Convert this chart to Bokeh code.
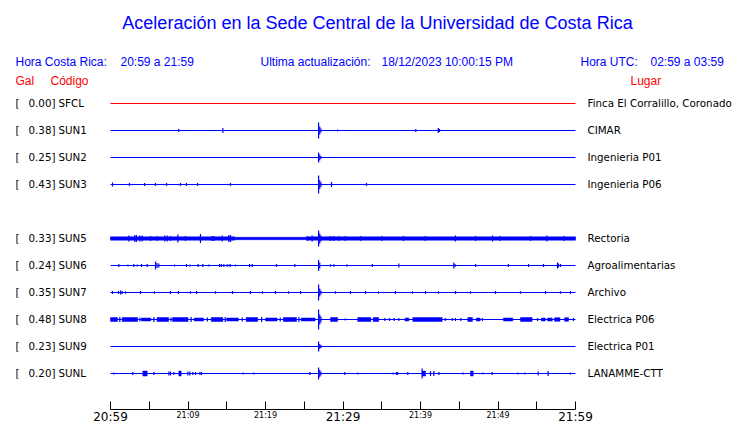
from bokeh.plotting import figure
from bokeh.models import Range1d, FixedTicker, Label, LabelSet, ColumnDataSource, LinearAxis
from bokeh.core.properties import value
from bokeh.embed import file_html
from bokeh.resources import INLINE

# ---------------- data ----------------
slot_order = ["SFCL", "SUN1", "SUN2", "SUN3", "SUN4", "SUN5", "SUN6", "SUN7", "SUN8", "SUN9", "SUNL"]
codes = ["SFCL", "SUN1", "SUN2", "SUN3", "SUN5", "SUN6", "SUN7", "SUN8", "SUN9", "SUNL"]
peaks = [0.00, 0.38, 0.25, 0.43, 0.33, 0.24, 0.35, 0.48, 0.23, 0.20]
places = ["Finca El Corralillo, Coronado", "CIMAR", "Ingenieria P01", "Ingenieria P06",
          "Rectoria", "Agroalimentarias", "Archivo", "Electrica P06", "Electrica P01", "LANAMME-CTT"]
trace_colors = ["#ff0000", "#0000ff", "#0000ff", "#0000ff", "#0000ff", "#0000ff",
                "#0000ff", "#0000ff", "#0000ff", "#0000ff"]

t_start, t_end = 0, 60          # minutes after 20:59 local time
tick_minutes = [0, 5, 10, 15, 20, 25, 30, 35, 40, 45, 50, 55, 60]
small_tick_labels = {10: "21:09", 20: "21:19", 40: "21:39", 50: "21:49"}
big_tick_minutes = [0, 30, 60]
big_tick_labels = ["20:59", "21:29", "21:59"]

# spikes: (minute, amplitude)
spikes = {
    "SFCL": [],
    "SUN1": [(8.8, 1.5), (14.5, 2.5), (26.85, 8), (27.0, 4), (27.15, 2), (29.3, 1),
             (39.4, 1.5), (42.3, 2.5), (42.45, 1.5)],
    "SUN2": [(26.85, 5), (27.0, 3), (27.15, 1.5)],
    "SUN3": [(0.26, 2), (2.45, 1.5), (4.39, 1.5), (5.8, 1.5), (7.23, 1.5), (9.03, 1.5),
             (9.8, 1.5), (11.23, 1.5), (15.48, 1.5), (26.85, 9), (27.0, 4.5), (27.15, 2.5),
             (28.52, 2.5), (33.03, 1.5)],
    "SUN5": [(2.37, 3), (3.14, 3.5), (3.35, 3.5), (3.78, 3), (4.09, 3), (5.16, 2.5), (6.02, 2.5),
             (7.0, 3), (7.31, 3), (7.74, 2.5), (8.69, 4), (9.68, 2.5), (11.61, 4.5), (13.12, 2.5),
             (13.33, 2.5), (14.41, 3), (15.27, 3.5), (15.48, 3.5), (25.37, 2.5), (26.02, 3),
             (26.85, 8), (27.0, 5), (27.15, 3), (28.39, 2.5), (28.82, 2.5), (29.46, 2.5),
             (30.3, 2.5), (32.3, 2.5), (35.0, 2.5), (37.8, 2.5), (40.6, 2.5), (44.5, 3),
             (47.1, 2.5), (49.3, 3), (50.3, 2.5), (54.2, 2.5), (56.3, 3), (58.5, 2.5)],
    "SUN6": [(1.08, 1.5), (2.24, 1), (3.01, 1.5), (3.44, 1), (4.0, 1.5), (4.73, 1.5),
             (5.81, 4), (6.0, 2.5), (6.24, 2), (8.26, 1), (9.81, 1.5), (10.24, 1), (11.31, 1.5),
             (11.91, 1.5), (12.69, 1), (14.06, 1.5), (14.3, 1.5), (14.62, 1.5), (15.05, 1.2),
             (15.3, 1.2), (15.48, 1.2), (16.13, 1), (17.94, 1.5), (18.28, 1.5), (21.42, 1.5),
             (23.78, 1.5), (26.85, 5.5), (27.0, 3), (28.39, 1.2), (28.82, 1.2), (30.5, 1.2),
             (33.8, 1.5), (37.2, 2), (44.3, 3), (44.45, 1.5), (47.1, 1.5), (51.35, 1.5),
             (53.94, 1.5), (55.87, 1.5), (57.68, 3), (57.8, 2), (58.06, 1.5)],
    "SUN7": [(0.26, 1.5), (1.03, 1.5), (1.3, 2), (1.5, 1.5), (1.94, 1.2), (3.87, 1.5),
             (5.68, 1.2), (7.74, 1.5), (8.77, 1.5), (10.32, 1.2), (11.1, 1.5), (13.55, 1.2),
             (15.74, 1.5), (18.06, 1.5), (19.61, 1.2), (21.29, 1.5), (22.97, 1.2), (24.52, 1.5),
             (26.85, 8), (27.0, 4), (27.15, 2), (29.03, 1.2), (30.97, 1.5), (32.9, 1.5),
             (34.58, 1.2), (36.77, 1.5), (38.97, 1.2), (40.65, 1.5), (42.32, 1.2), (44.52, 1.5),
             (46.45, 1.2), (49.68, 1.5), (52.9, 1.2), (56.13, 1.5), (58.06, 1.2), (59.35, 1.5)],
    "SUN8": [(26.85, 10), (27.0, 5), (27.15, 3), (30.3, 1), (35.4, 1.5), (36.0, 1.5),
             (36.6, 1.5), (37.2, 1.5), (43.2, 1.5), (44.1, 1.5), (44.5, 1.5), (45.2, 1.5),
             (48.0, 1.5), (55.1, 1.5), (59.74, 1.5), (1.2, 2.5), (3.8, 2), (5.6, 2.5),
             (7.8, 2), (10.4, 2.5), (12.5, 2), (14.8, 2.5), (17.0, 2), (19.5, 2.5), (21.9, 2),
             (24.3, 2.5)],
    "SUN9": [(26.85, 5), (27.0, 2.5), (27.15, 1.5)],
    "SUNL": [(0.43, 1), (2.88, 1.5), (5.59, 1.5), (7.53, 2), (7.74, 2), (8.17, 1.5),
             (9.98, 2), (10.24, 2), (10.62, 1.5), (10.97, 1.5), (11.53, 1.5), (11.74, 1.5),
             (17.12, 1), (18.49, 1), (25.72, 1.5), (26.85, 6), (27.0, 3.5), (27.15, 2),
             (30.23, 1.5), (31.91, 1), (36.47, 1), (36.9, 1.5), (37.07, 1.5), (38.37, 1.5),
             (40.21, 5), (41.29, 2.5), (41.72, 2.5), (42.37, 1.5), (45.5, 1), (48.04, 1),
             (49.25, 1.5), (52.56, 1), (53.46, 1), (55.18, 2), (56.47, 2.5), (59.35, 1)],
}

# dense noise bands: (minute start, minute end, amplitude)
bands = {
    "SUN5": [(0, 16, 1.7), (16, 25.4, 1.2), (25.4, 60, 1.7)],
    "SUN8": [(0, 0.9, 2), (1.5, 3.5, 2), (4.0, 5.2, 1.5), (6.0, 7.5, 2), (8.0, 10.0, 2),
             (10.8, 12.0, 1.5), (13.0, 14.5, 2), (15.0, 16.5, 1.5), (17.5, 19.0, 2),
             (20.0, 21.5, 1.5), (22.3, 24.0, 2), (24.6, 26.4, 1.5), (28.39, 29.3, 2),
             (31.9, 33.6, 2), (33.9, 34.6, 2), (38.0, 38.5, 1.5), (39.0, 42.8, 2),
             (46.1, 46.7, 2), (47.2, 47.7, 1.5), (50.7, 51.9, 1.5), (52.9, 54.4, 2),
             (55.6, 56.1, 1.5), (56.4, 57.0, 1.5), (57.3, 58.0, 1.8), (58.6, 59.1, 1.8)],
    "SUNL": [(4.17, 4.73, 2.5), (8.82, 9.12, 2.5), (40.21, 40.65, 2.5), (46.45, 46.8, 2.5)],
}

# ---------------- layout helpers ----------------
W, H = 740, 423
FL, FR = 110, 575             # x of trace start / end on the canvas
ROW0, ROWSTEP = 103, 27       # y of first row and row spacing
AXIS_Y = 409


def dx(cx):
    return t_start + (cx - FL) * (t_end - t_start) / (FR - FL)


def dy(cy):
    return -(cy - ROW0) / ROWSTEP


def amp(a):
    return a / ROWSTEP


p = figure(width=W, height=H, output_backend="svg", toolbar_location=None,
           x_axis_type=None, y_axis_type=None,
           x_range=Range1d(dx(0), dx(W)), y_range=Range1d(dy(H), dy(0)),
           min_border=0, min_border_left=0, min_border_right=0,
           min_border_top=0, min_border_bottom=0)
p.outline_line_color = None
p.background_fill_color = "white"
p.border_fill_color = "white"

rows = [-slot_order.index(c) for c in codes]

# baselines
p.segment(x0=[t_start] * len(codes), x1=[t_end] * len(codes), y0=rows, y1=rows,
          line_color=trace_colors, line_width=1)

# spikes and noise bands
sx, sy0, sy1, sc = [], [], [], []
qx0, qx1, qy0, qy1, qc = [], [], [], [], []
for c, r, col in zip(codes, rows, trace_colors):
    for t, a in spikes.get(c, []):
        sx.append(t); sy0.append(r - amp(a)); sy1.append(r + amp(a)); sc.append(col)
    for t0, t1, a in bands.get(c, []):
        qx0.append(t0); qx1.append(t1); qy0.append(r - amp(a)); qy1.append(r + amp(a)); qc.append(col)

p.quad(left=qx0, right=qx1, bottom=qy0, top=qy1, fill_color=qc, line_color=qc, line_width=0.5)
p.segment(x0=sx, x1=sx, y0=sy0, y1=sy1, line_color=sc, line_width=1.2)

# time axis: ticks + small labels
axA = LinearAxis(ticker=FixedTicker(ticks=tick_minutes, minor_ticks=[]),
                 bounds=(t_start, t_end), fixed_location=dy(AXIS_Y))
axA.major_label_overrides = {t: small_tick_labels.get(t, "") for t in tick_minutes}
axA.major_tick_in = 8
axA.major_tick_out = 0
axA.minor_tick_line_color = None
axA.axis_line_color = "black"
axA.major_tick_line_color = "black"
axA.major_label_text_font = "DejaVu Sans"
axA.major_label_text_font_size = "8px"
axA.major_label_text_color = "black"
axA.major_label_standoff = 1
p.add_layout(axA, "below")

# time axis: large hour labels
axB = LinearAxis(ticker=FixedTicker(ticks=big_tick_minutes, minor_ticks=[]),
                 bounds=(t_start, t_end), fixed_location=dy(AXIS_Y))
axB.major_label_overrides = dict(zip(big_tick_minutes, big_tick_labels))
axB.axis_line_color = None
axB.major_tick_line_color = None
axB.minor_tick_line_color = None
axB.major_tick_in = 0
axB.major_tick_out = 0
axB.major_label_text_font = "DejaVu Sans"
axB.major_label_text_font_size = "12px"
axB.major_label_text_color = "black"
axB.major_label_standoff = 0
p.add_layout(axB, "below")

# row labels
src = ColumnDataSource(dict(
    bx=[dx(15)] * len(codes), vx=[dx(55)] * len(codes), cx=[dx(58)] * len(codes),
    px=[dx(587)] * len(codes), y=rows,
    br=["["] * len(codes), val=["%.2f]" % v for v in peaks], code=codes, place=places))
for xf, tf, al in [("bx", "br", "left"), ("vx", "val", "right"), ("cx", "code", "left"),
                   ("px", "place", "left")]:
    p.add_layout(LabelSet(x=xf, y="y", text=tf, source=src, text_align=value(al),
                          text_baseline=value("middle"), text_font=value("DejaVu Sans"),
                          text_font_size=value("10.3px"), text_color=value("black"),
                          y_offset=1))

BLUE, RED = "#0000ff", "#ff0000"


def txt(x, y, s, color, size="12px", align="left"):
    p.add_layout(Label(x=dx(x), y=dy(y), text=s, text_align=align, text_baseline="middle",
                       text_font="Liberation Sans", text_font_size=size, text_color=color))


txt(377, 22, "Aceleración en la Sede Central de la Universidad de Costa Rica", BLUE, "18px", "center")
txt(15, 61, "Hora Costa Rica:", BLUE)
txt(120, 61, "20:59 a 21:59", BLUE)
txt(260, 61, "Ultima actualización:", BLUE)
txt(381, 61, "18/12/2023 10:00:15 PM", BLUE)
txt(580, 61, "Hora UTC:", BLUE)
txt(650, 61, "02:59 a 03:59", BLUE)
txt(15, 80, "Gal", RED)
txt(50, 80, "Código", RED)
txt(630, 80, "Lugar", RED)

open("out.html", "w").write(file_html(p, INLINE))
